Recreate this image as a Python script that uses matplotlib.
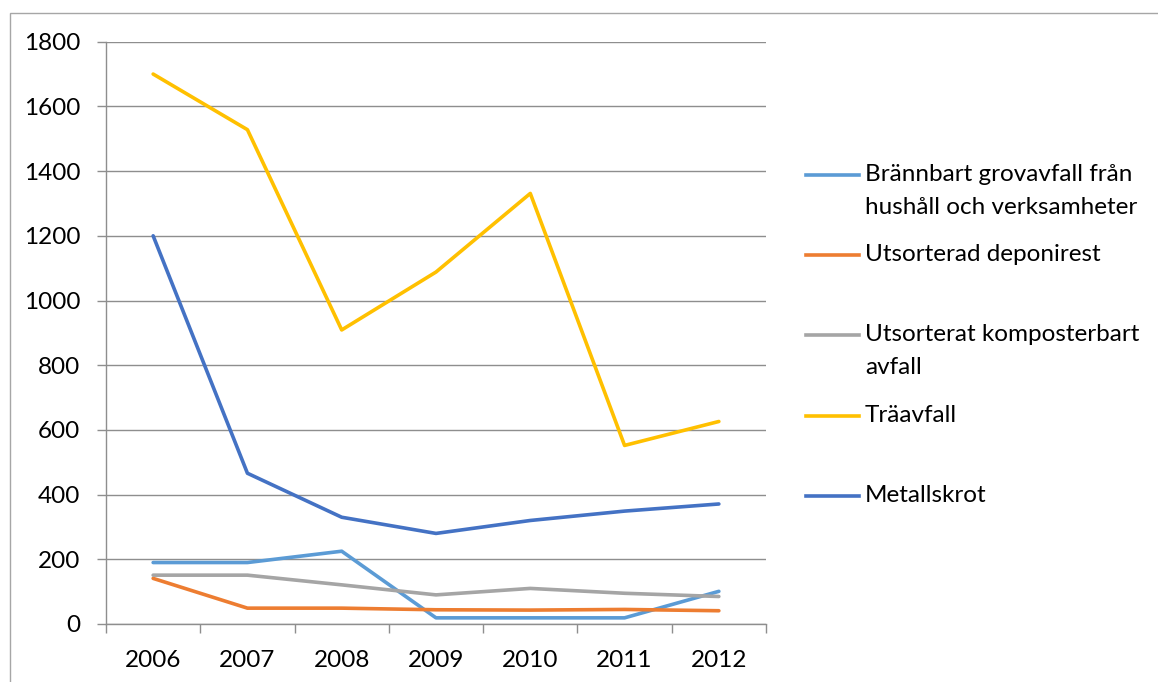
import matplotlib
matplotlib.use("Agg")
import matplotlib.pyplot as plt
from matplotlib.lines import Line2D
from matplotlib.patches import Rectangle

# Data
years = ["2006", "2007", "2008", "2009", "2010", "2011", "2012"]
brannbart = [190, 190, 225, 19, 19, 19, 101]
deponirest = [141, 49, 49, 44, 43, 45, 41]
kompost = [151, 151, 121, 90, 110, 95, 85]
travfall = [1700, 1528, 909, 1088, 1331, 552, 626]
metall = [1200, 466, 330, 280, 320, 349, 371]

labels = [
    "Brännbart grovavfall från\nhushåll och verksamheter",
    "Utsorterad deponirest",
    "Utsorterat komposterbart\navfall",
    "Träavfall",
    "Metallskrot",
]
colors = ["#5B9BD5", "#ED7D31", "#A5A5A5", "#FFC000", "#4472C4"]
series = [brannbart, deponirest, kompost, travfall, metall]

plt.rcParams["font.family"] = ["Lato", "DejaVu Sans"]

W, H = 1158, 682
fig = plt.figure(figsize=(W / 100, H / 100), dpi=100)
ax = fig.add_axes([106 / W, 1 - 624 / H, (766 - 106) / W, (624 - 41.7) / H])

x = list(range(len(years)))
for vals, col in zip(series, colors):
    ax.plot(x, vals, color=col, lw=2.6, solid_capstyle="round", solid_joinstyle="round", zorder=3)

ax.set_xlim(-0.5, len(years) - 0.5)
ax.set_ylim(0, 1800)
ax.set_yticks(range(0, 1801, 200))
ax.yaxis.grid(True, color="#8E8E8E", lw=1.0)
ax.set_axisbelow(True)

# category labels between tick marks, Excel style
ax.set_xticks([i - 0.5 for i in range(len(years) + 1)])
ax.set_xticklabels([])
ax.set_xticks(x, minor=True)
ax.set_xticklabels(years, minor=True)
ax.tick_params(axis="x", which="major", length=6.5, width=1, color="#8E8E8E", direction="out")
ax.tick_params(axis="x", which="minor", length=0, pad=19, labelsize=17.5)
ax.tick_params(axis="y", length=6.5, width=1, color="#8E8E8E", pad=12, labelsize=17.5)

for s in ["top", "right"]:
    ax.spines[s].set_visible(False)
for s in ["left", "bottom"]:
    ax.spines[s].set_color("#8E8E8E")
    ax.spines[s].set_linewidth(1)

# legend drawn manually to match Excel placement
leg_y = [175, 255, 335, 416, 496]
for lab, col, yy in zip(labels, colors, leg_y):
    fy = 1 - yy / H
    fig.add_artist(Line2D([806 / W, 859 / W], [fy, fy], color=col, lw=2.6, transform=fig.transFigure))
    fig.text(865 / W, 1 - (yy - 11) / H, lab, fontsize=17.5, va="top", ha="left", linespacing=1.7)

# outer chart frame
fig.add_artist(Rectangle((10 / W, -0.1), 1.2, 1 - 12.5 / H + 0.1, transform=fig.transFigure,
                         fill=False, edgecolor="#A6A6A6", lw=1))

fig.savefig("out.png", dpi=100)
